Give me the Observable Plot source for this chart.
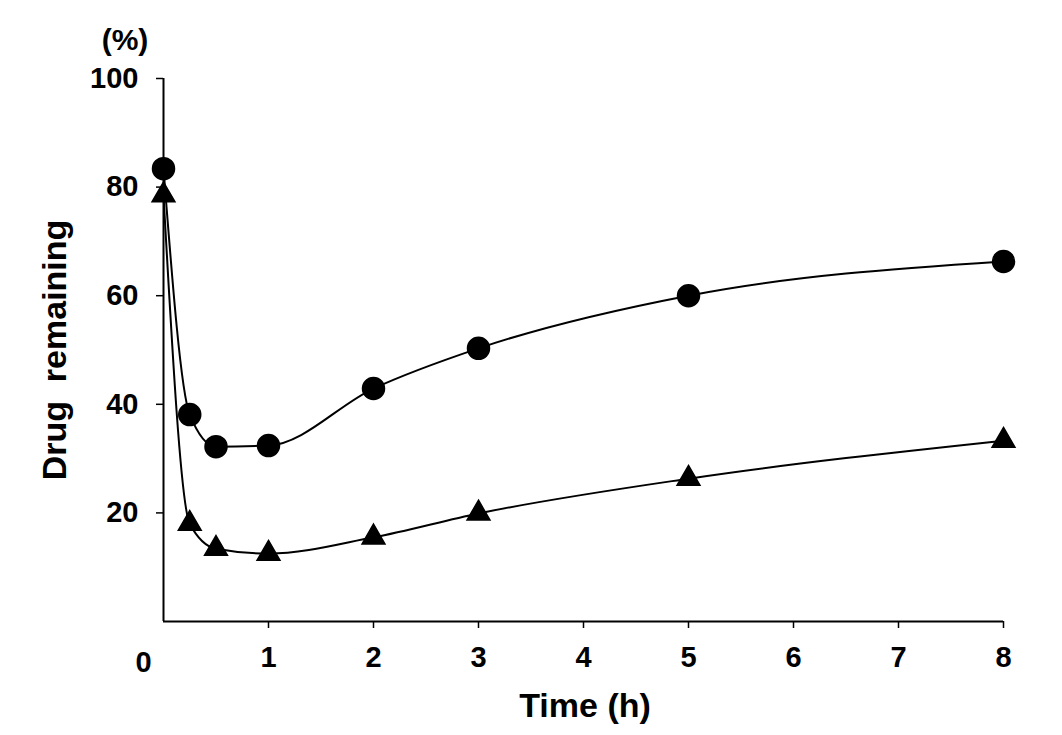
<!DOCTYPE html>
<html><head>
<script src="https://cdn.jsdelivr.net/npm/d3@7"></script>
<script src="https://cdn.jsdelivr.net/npm/@observablehq/plot@0.6"></script>
<style>body{margin:0;background:#fff}</style>
</head><body>
<div id="chart"></div>
<script>
const times = [0, 0.25, 0.5, 1, 2, 3, 5, 8];
const circleSeries = [83.4, 38.1, 32.2, 32.4, 42.9, 50.3, 60.0, 66.3];
const triangleSeries = [78.5, 18.0, 13.4, 12.5, 15.5, 19.9, 26.3, 33.3];
const xTicks = [1, 2, 3, 4, 5, 6, 7, 8];
const yTicks = [20, 40, 60, 80, 100];

const circ = times.map((t, i) => ({t, v: circleSeries[i]}));
const tri = times.map((t, i) => ({t, v: triangleSeries[i]}));
const font = "Liberation Sans, Arial, sans-serif";

const chart = Plot.plot({
  width: 1062, height: 735,
  marginLeft: 163, marginRight: 59, marginTop: 78, marginBottom: 114,
  style: {fontFamily: font, fontWeight: "bold", fontSize: "29px", background: "#fff", color: "#000"},
  x: {domain: [0, 8]},
  y: {domain: [0, 100]},
  marks: [
    Plot.ruleX([0], {stroke: "#000", strokeWidth: 2}),
    Plot.ruleY([0], {stroke: "#000", strokeWidth: 2}),
    Plot.axisX({ticks: xTicks, tickSize: 7, tickPadding: 18, label: null, fontSize: 29, fontWeight: "bold", strokeWidth: 1.5}),
    Plot.axisY({ticks: yTicks, tickSize: 7, tickPadding: 18, label: null, fontSize: 29, fontWeight: "bold", strokeWidth: 1.5}),
    Plot.text(["0"], {x: 0, y: 0, dx: -20, dy: 41, fontSize: 29, fontWeight: "bold"}),
    Plot.line(circ, {x: "t", y: "v", curve: "monotone-x", stroke: "#000", strokeWidth: 2}),
    Plot.line(tri, {x: "t", y: "v", curve: "monotone-x", stroke: "#000", strokeWidth: 2}),
    Plot.dot(circ, {x: "t", y: "v", r: 11, fill: "#000", stroke: "#000"}),
    Plot.dot(tri, {x: "t", y: "v", r: 8.5, symbol: "triangle", fill: "#000", stroke: "#000"})
  ]
});
const svg = d3.select(chart);
svg.append("text").attr("x", 125).attr("y", 50).attr("text-anchor", "middle")
  .attr("font-size", 30).attr("font-weight", "bold").text("(%)");
svg.append("text").attr("x", 585).attr("y", 717).attr("text-anchor", "middle")
  .attr("font-size", 34).attr("font-weight", "bold").text("Time (h)");
svg.append("text").attr("transform", "translate(66,350) rotate(-90)").attr("text-anchor", "middle")
  .attr("font-size", 34).attr("font-weight", "bold").text("Drug  remaining");
document.getElementById("chart").append(chart);
</script>
</body></html>
